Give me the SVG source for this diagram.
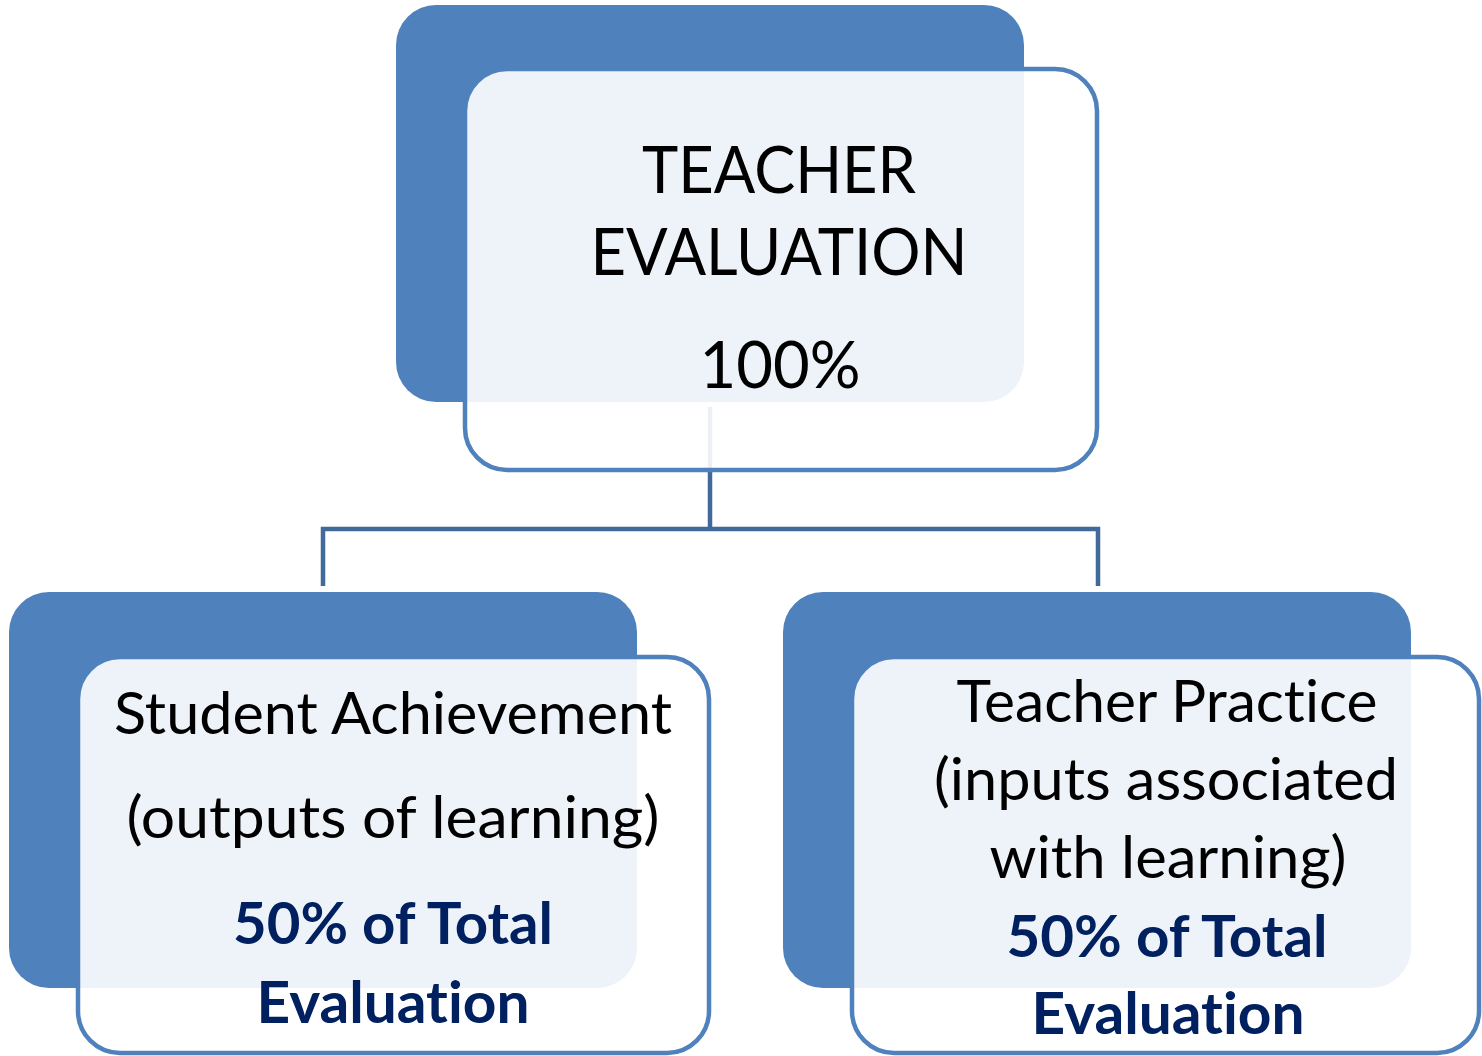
<svg xmlns="http://www.w3.org/2000/svg" width="1482" height="1056" viewBox="0 0 1482 1056">
<style>
.back{fill:#4F81BD;}
.front{fill:#FFFFFF;fill-opacity:0.9;stroke:#4F81BD;stroke-width:4.5;}
.conn{fill:none;stroke:#41699B;stroke-width:4.5;stroke-linejoin:miter;}
.t{font-family:Lato,"Open Sans","DejaVu Sans",sans-serif;text-anchor:middle;fill:#000000;font-variant-ligatures:none;}
.big{font-size:66px;}
.mid{font-size:58px;}
.b{font-weight:bold;fill:#002060;}
</style>
<rect width="1482" height="1056" fill="#FFFFFF"/>
<g id="connectors">
<path class="conn" d="M710 407 V529"/>
<path class="conn" d="M323 586 V529 H1098 V586"/>
</g>
<g id="node-teacher-evaluation">
<rect class="back" x="396" y="5" width="628" height="397" rx="40" ry="40"/>
<rect class="front" x="465" y="69" width="632" height="401" rx="42" ry="42"/>
<text class="t big" x="779" y="193" textLength="274" lengthAdjust="spacingAndGlyphs">TEACHER</text>
<text class="t big" x="779" y="275" textLength="377" lengthAdjust="spacingAndGlyphs">EVALUATION</text>
<text class="t big" x="780" y="388" textLength="161" lengthAdjust="spacingAndGlyphs">100%</text>
</g>
<g id="node-student-achievement">
<rect class="back" x="9" y="592" width="628" height="396" rx="40" ry="40"/>
<rect class="front" x="78" y="657" width="631" height="396" rx="42" ry="42"/>
<text class="t mid" x="393" y="734" textLength="558" lengthAdjust="spacingAndGlyphs">Student Achievement</text>
<text class="t mid" x="393" y="838" textLength="533" lengthAdjust="spacingAndGlyphs">(outputs of learning)</text>
<text class="t mid b" x="393" y="944" textLength="320" lengthAdjust="spacingAndGlyphs">50% of Total</text>
<text class="t mid b" x="393" y="1023" textLength="273" lengthAdjust="spacingAndGlyphs">Evaluation</text>
</g>
<g id="node-teacher-practice">
<rect class="back" x="783" y="592" width="628" height="396" rx="40" ry="40"/>
<rect class="front" x="852" y="657" width="627" height="396" rx="42" ry="42"/>
<text class="t mid" x="1167" y="722" textLength="421" lengthAdjust="spacingAndGlyphs">Teacher Practice</text>
<text class="t mid" x="1166" y="800" textLength="464" lengthAdjust="spacingAndGlyphs">(inputs associated</text>
<text class="t mid" x="1168" y="878" textLength="357" lengthAdjust="spacingAndGlyphs">with learning)</text>
<text class="t mid b" x="1167" y="957" textLength="321" lengthAdjust="spacingAndGlyphs">50% of Total</text>
<text class="t mid b" x="1168" y="1034" textLength="273" lengthAdjust="spacingAndGlyphs">Evaluation</text>
</g>
</svg>
